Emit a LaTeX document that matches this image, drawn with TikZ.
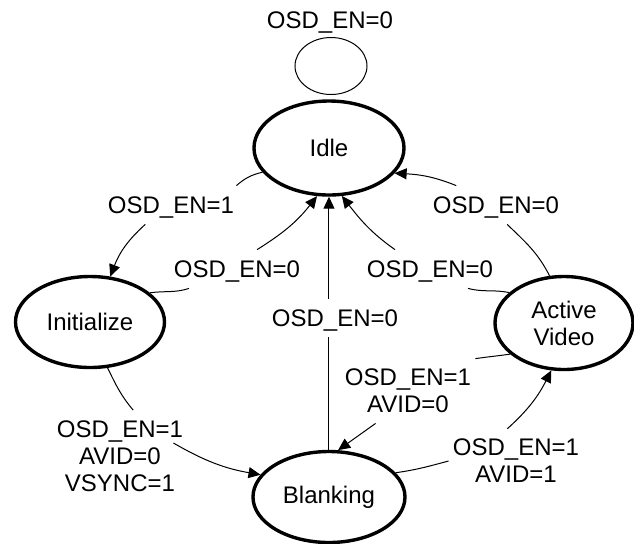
\documentclass[tikz,border=0pt]{standalone}
\usepackage{fontspec}
\setmainfont{Liberation Sans}
\usetikzlibrary{shapes.geometric,arrows.meta}
\begin{document}
\begin{tikzpicture}[x=0.5pt,y=0.5pt,
  font=\fontsize{12}{13.5}\selectfont,
  state/.style={ellipse,draw,line width=1.7pt,inner sep=0pt,align=center},
  cond/.style={inner xsep=1pt,inner ysep=2.5pt,text height=11pt,text depth=3pt},
  multi/.style={inner xsep=2pt,inner ysep=5pt,align=center},
  edge/.style={line width=0.5pt},
  arc/.style={edge,-{Triangle[length=6pt,width=5.5pt]}}]

\useasboundingbox (0,0) rectangle (634,-543);

% states
\node[state,minimum width=75pt,minimum height=47pt] (idle) at (329,-148) {Idle};
\node[state,minimum width=74.5pt,minimum height=45.5pt] (init) at (90,-322) {Initialize};
\node[state,minimum width=69pt,minimum height=46.5pt] (active) at (564,-323) {Active\\Video};
\node[state,minimum width=76pt,minimum height=45.5pt] (blank) at (329,-497) {Blanking};

% self loop on Idle
\node[ellipse,draw,line width=0.5pt,minimum width=36pt,minimum height=28.5pt] (loop) at (331,-66) {};
\node[cond] (lloop) at (330,-20) {OSD\_EN=0};

% transition conditions
\node[cond] (l1) at (171,-205) {OSD\_EN=1};
\node[cond] (l2) at (237,-269) {OSD\_EN=0};
\node[cond] (l3) at (335,-318) {OSD\_EN=0};
\node[cond] (l4) at (430,-269) {OSD\_EN=0};
\node[cond] (l5) at (496,-205) {OSD\_EN=0};
\node[multi] (l6) at (120,-456) {OSD\_EN=1\\AVID=0\\VSYNC=1};
\node[multi] (l7) at (408,-391) {OSD\_EN=1\\AVID=0};
\node[multi] (l8) at (516,-461) {OSD\_EN=1\\AVID=1};

% Idle -> Initialize
\draw[edge] (idle.200) to[out=193,in=41] (l1.north east);
\draw[arc] (l1.217) to[out=222,in=69] (init.66);
% Initialize -> Idle
\draw[edge] (init.26) to[out=8,in=198] (l2.202);
\draw[arc] (l2.44) to[out=32,in=232] (idle.256);
% Blanking -> Idle
\draw[edge] (blank.north) -- (l3.south -| blank.north);
\draw[arc] (l3.north -| idle.south) -- (idle.south);
% Active Video -> Idle (two conditions)
\draw[edge] (active.151) to[out=168,in=345] (l4.333);
\draw[arc] (l4.151) to[out=145,in=308] (idle.285);
\draw[edge] (active.107) to[out=117,in=316] (l5.300);
\draw[arc] (l5.154) to[out=158,in=357] (idle.339);
% Initialize -> Blanking
\draw[edge] (init.291) to[out=-64,in=130] (l6.74);
\draw[arc] ([shift={(-7pt,6.5pt)}]l6.east) to[out=-30,in=170] (blank.162);
% Active Video -> Blanking
\draw[edge] (active.210) to[out=188,in=8] (l7.north east);
\draw[arc] (l7.225) -- (blank.79);
% Blanking -> Active Video
\draw[edge] (blank.20) to[out=8,in=195] (l8.west);
\draw[arc] (l8.105) to[out=42,in=243] (active.255);

\end{tikzpicture}
\end{document}
